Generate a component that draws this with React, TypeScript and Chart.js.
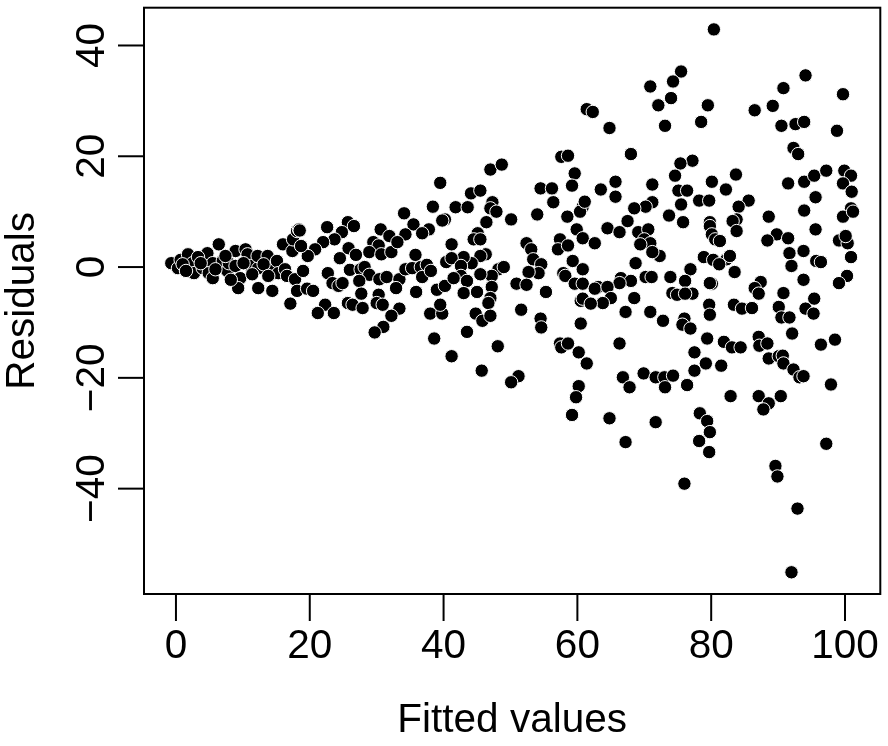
import React, { useEffect, useRef } from "react";
import { Chart, registerables } from "chart.js";

Chart.register(...registerables);

// fitted value / residual pairs
const FITTED = [
  -0.7, 0.3, 0.7, 1.8, 2.5, 2.7, 4.0, 4.5, 4.7, 5.5, 4.9, 5.5, 6.4, 7.0, 7.7, 7.9, 8.9, 8.9, 9.6, 9.3,
  10.4, 10.7, 11.1, 12.3, 12.2, 12.3, 13.7, 14.4, 14.4, 15.1, 15.3, 16.0, 16.3, 16.6, 17.4, 17.5, 18.1, 18.4, 17.8, 17.1,
  18.1, 1.0, 3.3, 5.9, 7.4, 10.1, 13.1, 13.8, 11.4, 8.2, 3.7, 1.5,
  39.5, 38.4, 34.1, 40.2, 25.7, 26.6, 22.6, 18.5, 30.6, 35.5, 37.8, 36.8, 24.8, 23.7, 31.9, 34.3, 22.0, 20.8, 19.7, 18.7,
  25.8, 26.9, 24.5, 29.5, 30.3, 28.9, 30.7, 32.2, 33.1, 35.8, 19.0, 22.7, 23.4, 24.3, 24.9, 26.0, 27.6, 28.2, 28.9, 27.4,
  30.4, 31.5, 33.4, 34.3, 35.3, 36.6, 37.5, 36.8, 38.1, 40.4, 19.6, 20.5, 32.9, 35.9, 39.0, 40.2, 27.7, 25.7, 26.4, 27.9,
  30.3, 30.0, 30.9, 22.3, 21.2, 23.6, 33.4, 32.2, 31.0, 29.7, 38.0, 39.8, 39.5, 38.6,
  57.6, 58.6, 47.0, 48.7, 59.6, 44.1, 45.5, 54.5, 56.2, 59.2, 56.4, 47.3, 47.0, 47.9, 41.8, 43.6, 60.8, 60.4, 61.1, 39.8,
  50.1, 46.4, 54.0, 58.5, 59.9, 60.8, 45.1, 44.5, 45.5, 41.2, 52.4, 53.1, 57.4, 57.1, 58.6, 46.3, 45.5, 44.2, 43.0, 41.2,
  53.4, 54.6, 54.2, 52.7, 59.3, 60.8, 42.6, 48.2, 49.0, 47.2, 45.5, 42.6, 41.5, 43.5, 57.9, 58.2, 50.9, 52.4, 47.2, 59.6,
  60.8,
  43.0, 45.0, 47.0, 46.7, 51.6, 44.8, 45.8, 47.0, 55.3, 60.5, 60.8, 54.5, 54.6, 43.5, 60.5, 48.1, 57.4, 57.6, 58.6, 60.2,
  61.4, 41.2, 45.7, 51.2, 50.1, 60.2, 59.8, 59.2,
  75.5, 74.3, 70.9, 74.0, 72.1, 79.5, 61.4, 62.3, 78.5, 73.1, 64.8, 68.0, 77.2, 75.4, 74.6, 65.7, 71.2, 80.1, 63.5, 75.1,
  76.4, 65.7, 71.2, 70.2, 68.5, 75.5, 78.2, 79.7, 73.7, 75.8, 67.5, 79.8, 79.8, 64.5, 66.3, 69.1, 70.6, 70.0, 70.9, 69.4,
  62.6, 80.1, 80.6,
  72.3, 71.2, 68.7, 78.9, 80.3, 76.9, 66.5, 68.0, 66.3, 70.2, 71.1, 73.9, 76.1, 80.1, 79.8, 63.1, 62.6, 64.5, 65.0, 63.8,
  68.5, 74.2, 74.9, 77.2, 76.1, 62.0, 67.2, 70.9, 72.8, 76.0, 75.7, 76.9, 79.7, 79.8, 66.3, 79.4, 77.5, 79.2, 77.5, 69.9,
  71.7, 73.0, 74.3, 73.1, 66.8, 67.8, 76.4, 78.3, 79.4, 79.8, 78.2, 79.7, 64.8, 71.7, 67.2, 76.0,
  80.4, 94.1, 90.8, 99.7, 86.5, 89.2, 90.5, 92.6, 93.9, 98.8, 92.3, 93.0, 83.7, 82.2, 85.6, 84.1, 91.5, 93.9, 95.4, 97.2,
  99.9, 100.9, 99.7, 101.0, 95.6, 93.9, 100.9, 99.7, 101.2, 88.6, 83.8, 83.2, 81.3, 83.8, 95.6, 89.8, 88.4, 91.5, 99.1, 100.4,
  100.1, 91.7, 93.8, 100.9, 82.3, 82.8, 81.2, 92.0, 95.7, 96.4,
  83.5, 87.4, 86.5, 87.1, 93.8, 100.3, 99.1, 90.8, 95.4, 83.4, 84.6, 86.1, 90.1, 90.5, 91.7, 94.1, 95.3, 92.1, 81.9, 83.1,
  84.4, 87.1, 87.2, 88.4, 88.6, 90.1, 90.7, 90.8, 92.3, 93.2, 93.8, 96.4, 98.5, 81.5, 97.9, 82.9, 87.1, 88.6, 87.8, 90.4,
  97.2, 89.6, 89.9, 92.9, 92.0,
];

const RESIDUALS = [
  0.7, -0.2, 1.3, 2.3, 0.7, -1.1, -0.2, 1.6, 2.5, 0.7, -1.1, -2.0, 4.1, 1.1, -0.7, 0.7, 2.9, 0.2, -2.0, -3.8,
  3.2, 2.3, 0.2, -0.2, 2.0, -3.8, 2.0, -0.4, -4.3, 1.1, -1.1, 4.1, -0.4, -1.6, 2.9, 5.0, 6.5, 6.8, -2.2, -6.6,
  -4.3, 0.5, 1.8, -0.4, 2.0, 0.7, 0.5, -1.6, -1.3, -2.3, 0.7, -0.7,
  15.2, 10.9, 9.7, 8.6, 8.1, 7.4, 7.2, 6.6, 6.8, 7.7, 6.8, 6.1, 6.3, 5.0, 5.6, 5.9, 4.5, 3.2, 2.0, 3.8,
  3.4, 2.2, 1.6, 4.5, 3.9, 2.7, 2.3, 2.7, 4.5, 2.2, -0.7, -1.1, -2.9, -3.4, -2.9, -0.5, -0.4, 0.0, -1.4, -2.5,
  -2.2, -1.8, -2.2, -0.4, -0.2, 0.0, 0.4, -1.8, -0.7, 0.9, -3.9, -4.3, -3.8, -4.5, -4.1, -3.4, -4.8, -6.5, -6.8, -7.4,
  -5.0, -6.5, -6.8, -6.8, -8.3, -8.3, -7.5, -8.8, -10.8, -11.8, -8.4, -8.4, -6.8, -12.9,
  19.9, 20.1, 17.6, 18.5, 16.9, 13.3, 13.8, 14.2, 14.2, 14.7, 11.7, 11.7, 10.6, 10.0, 10.8, 10.8, 10.9, 10.0, 11.8, 8.4,
  8.6, 8.1, 9.5, 9.1, 6.8, 5.2, 6.1, 5.0, 5.0, 4.1, 4.3, 3.2, 5.0, 3.2, 3.9, 2.3, 2.0, 0.7, 1.8, 1.6,
  1.4, 0.5, -1.1, -0.9, 1.1, -0.4, 0.2, -0.4, 0.0, -1.6, -1.3, -1.6, -2.0, -2.5, -1.1, -1.6, -3.0, -3.2, -3.6, -3.0,
  -3.0,
  -4.7, -4.5, -5.6, -6.5, -7.7, -8.4, -9.7, -8.8, -4.5, -6.1, -5.7, -9.3, -10.9, -11.7, -10.2, -14.3, -13.8, -14.5, -13.8, -15.4,
  -17.4, -16.1, -18.7, -19.7, -20.8, -21.5, -23.5, -26.7,
  35.3, 33.5, 32.6, 30.5, 29.2, 29.2, 28.5, 28.0, 26.2, 25.5, 25.1, 20.4, 19.2, 18.7, 16.5, 15.4, 14.9, 15.4, 14.0, 13.8,
  13.8, 12.7, 11.7, 10.9, 10.6, 11.3, 12.0, 12.0, 9.3, 8.1, 8.3, 8.1, 7.4, 7.0, 6.3, 6.3, 6.8, 5.0, 4.3, 4.1,
  4.3, 5.9, 5.0,
  2.0, 2.7, 0.7, 1.8, 1.3, -0.4, -2.0, -2.5, -2.9, -1.8, -1.8, -1.8, -2.5, -3.0, -2.9, -3.6, -3.9, -3.6, -5.6, -6.5,
  -5.6, -4.7, -5.0, -4.8, -4.8, -6.6, -8.1, -8.1, -9.7, -9.3, -10.4, -11.1, -6.8, -8.6, -13.8, -12.9, -15.4, -17.4, -18.7, -19.2,
  -19.9, -19.9, -19.6, -21.7, -19.9, -21.7, -21.3, -26.4, -27.8, -29.8, -31.4, -33.4, -27.3, -28.0, -31.6, -39.1,
  42.9, 34.6, 32.3, 31.2, 28.3, 29.1, 25.5, 25.8, 26.2, 24.6, 21.5, 20.4, 16.7, 14.0, 12.0, 10.9, 15.1, 15.4, 16.5, 17.4,
  17.4, 16.5, 15.1, 13.6, 12.6, 10.2, 10.6, 9.1, 10.0, 9.1, 8.6, 8.3, 4.7, 6.5, 6.8, 5.9, 4.8, 5.2, 4.8, 4.3,
  5.6, 2.5, 2.9, 1.8, 1.4, 2.0, 0.5, 0.2, 1.1, 0.9,
  -0.9, -2.7, -3.8, -4.8, -2.3, -1.6, -2.9, -4.7, -5.7, -6.8, -7.5, -7.4, -7.2, -9.1, -9.1, -7.5, -8.4, -12.0, -13.5, -14.5,
  -14.5, -12.6, -14.2, -13.8, -16.5, -16.1, -16.0, -17.4, -18.5, -19.9, -19.7, -14.0, -13.1, -17.8, -21.2, -23.3, -23.3, -24.6, -25.7, -23.3,
  -31.9, -35.9, -37.8, -43.6, -55.1,
];

const X_TICKS = [0, 20, 40, 60, 80, 100];
const Y_TICKS = [-40, -20, 0, 20, 40];
const Y_TICK_LABELS = ["\u221240", "\u221220", "0", "20", "40"];

const X_TITLE = "Fitted values";
const Y_TITLE = "Residuals";

const FONT = '40.5px "Liberation Sans", Arial, Helvetica, sans-serif';

// R-style axis limits: data range plus 4% each side
function padRange(values: number[]) {
  const lo = Math.min(...values);
  const hi = Math.max(...values);
  const pad = (hi - lo) * 0.04;
  return { min: lo - pad, max: hi + pad };
}

// box, outward ticks and labels drawn the way base R does it
const baseAxes = {
  id: "baseAxes",
  afterDraw(chart: Chart) {
    const { ctx, chartArea: a, scales } = chart;
    ctx.save();
    ctx.strokeStyle = "#000";
    ctx.fillStyle = "#000";
    ctx.lineWidth = 2;
    ctx.strokeRect(a.left, a.top, a.right - a.left, a.bottom - a.top);

    ctx.font = FONT;
    ctx.textAlign = "center";
    ctx.textBaseline = "alphabetic";

    X_TICKS.forEach((t) => {
      const x = scales.x.getPixelForValue(t);
      ctx.beginPath();
      ctx.moveTo(x, a.bottom);
      ctx.lineTo(x, a.bottom + 27);
      ctx.stroke();
      ctx.fillText(String(t), x, a.bottom + 64);
    });

    Y_TICKS.forEach((t, i) => {
      const y = scales.y.getPixelForValue(t);
      ctx.beginPath();
      ctx.moveTo(a.left, y);
      ctx.lineTo(a.left - 26, y);
      ctx.stroke();
      ctx.save();
      ctx.translate(a.left - 54, y);
      ctx.rotate(-Math.PI / 2);
      ctx.fillText(Y_TICK_LABELS[i], 0, 14);
      ctx.restore();
    });

    ctx.fillText(X_TITLE, (a.left + a.right) / 2, a.bottom + 138);

    ctx.save();
    ctx.translate(a.left - 124, (a.top + a.bottom) / 2);
    ctx.rotate(-Math.PI / 2);
    ctx.fillText(Y_TITLE, 0, 14);
    ctx.restore();

    ctx.restore();
  },
};

function ResidualPlot() {
  const canvasRef = useRef<HTMLCanvasElement>(null);
  const chartRef = useRef<Chart | null>(null);

  useEffect(() => {
    if (!canvasRef.current) return;
    if (chartRef.current) chartRef.current.destroy();

    const xr = padRange(FITTED);
    const yr = padRange(RESIDUALS);

    chartRef.current = new Chart(canvasRef.current, {
      type: "scatter",
      data: {
        datasets: [
          {
            data: FITTED.map((x, i) => ({ x, y: RESIDUALS[i] })),
            pointRadius: 6.7,
            pointBackgroundColor: "#000",
            pointBorderColor: "#fff",
            pointBorderWidth: 1,
            clip: false,
          },
        ],
      },
      options: {
        responsive: true,
        maintainAspectRatio: false,
        animation: false,
        layout: { padding: { left: 144, right: 2, top: 5, bottom: 152 } },
        plugins: {
          legend: { display: false },
          tooltip: { enabled: false },
        },
        scales: {
          x: { type: "linear", min: xr.min, max: xr.max, display: false },
          y: { type: "linear", min: yr.min, max: yr.max, display: false },
        },
      },
      plugins: [baseAxes],
    });

    return () => {
      chartRef.current?.destroy();
      chartRef.current = null;
    };
  }, []);

  return (
    <div
      style={{
        position: "fixed",
        left: 0,
        top: 0,
        width: 888,
        height: 746,
        background: "#fff",
      }}
    >
      <canvas ref={canvasRef} role="img" aria-label="Residuals versus fitted values" />
    </div>
  );
}

export default function App() {
  return <ResidualPlot />;
}
